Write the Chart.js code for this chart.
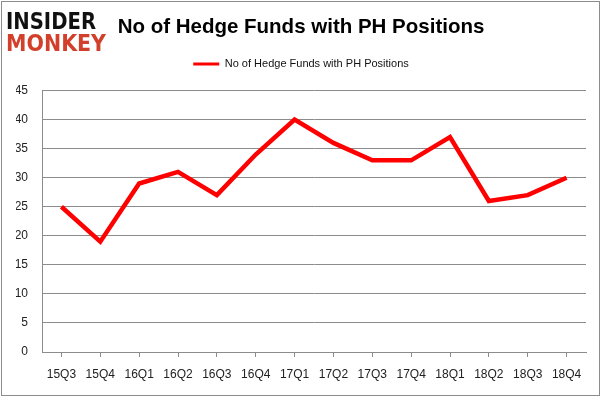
<!DOCTYPE html>
<html>
<head>
<meta charset="utf-8">
<script src="https://cdn.jsdelivr.net/npm/chart.js@4"></script>
<style>
  body { margin: 0; background: #fff; }
  #wrap { width: 602px; height: 398px; }
</style>
</head>
<body>
<div id="wrap"><canvas id="chart" width="602" height="398"></canvas></div>
<script>
var quarters = ["15Q3", "15Q4", "16Q1", "16Q2", "16Q3", "16Q4", "17Q1", "17Q2", "17Q3", "17Q4", "18Q1", "18Q2", "18Q3", "18Q4"];
var hedgeFunds = [25, 19, 29, 31, 27, 34, 40, 36, 33, 33, 37, 26, 27, 30];
var seriesName = "No of Hedge Funds with PH Positions";
var chartTitle = "No of Hedge Funds with PH Positions";

// frame and logo drawn around the chart
var decor = {
    id: "decor",
    beforeInit: function(chart) {
        // leave a gap under the legend, like the original
        var fit = chart.legend.fit;
        chart.legend.fit = function() {
            fit.call(this);
            this.height += 11;
        };
    },
    beforeDraw: function(chart) {
        var ctx = chart.ctx;
        ctx.save();
        ctx.fillStyle = "#fff";
        ctx.fillRect(0, 0, chart.width, chart.height);
        ctx.strokeStyle = "#8c8c8c";
        ctx.lineWidth = 1;
        ctx.strokeRect(1.5, 1.5, 598, 394);
        ctx.textBaseline = "alphabetic";
        ctx.fillStyle = "#111";
        ctx.font = "bold 23px 'DejaVu Sans'";
        ctx.fillText("INSIDER", 6, 29, 90);
        ctx.fillStyle = "#d2402c";
        ctx.fillText("MONKEY", 6, 51, 100);
        ctx.restore();
    }
};

var ctx = document.getElementById("chart").getContext("2d");
var chart = new Chart(ctx, {
    type: "line",
    data: {
        labels: quarters,
        datasets: [{
            label: seriesName,
            data: hedgeFunds,
            borderColor: "#ff0000",
            backgroundColor: "#ff0000",
            borderWidth: 4.5,
            pointRadius: 0,
            tension: 0,
            fill: false
        }]
    },
    options: {
        responsive: false,
        animation: false,
        layout: { padding: { left: 16, right: 16, top: 0, bottom: 0 } },
        plugins: {
            title: {
                display: true,
                text: chartTitle,
                color: "#000",
                font: { family: "'Liberation Sans'", size: 20.5, weight: "bold" },
                padding: { top: 15, bottom: 11 }
            },
            legend: {
                display: true,
                labels: {
                    color: "#111",
                    font: { family: "'Liberation Sans'", size: 11 },
                    usePointStyle: true,
                    pointStyle: "line",
                    pointStyleWidth: 26,
                    boxHeight: 11,
                    padding: 8,
                    generateLabels: function(c) {
                        var items = Chart.defaults.plugins.legend.labels.generateLabels(c);
                        items.forEach(function(it) { it.lineWidth = 3; });
                        return items;
                    }
                }
            },
            tooltip: { enabled: false }
        },
        scales: {
            x: {
                offset: true,
                grid: { drawOnChartArea: false, drawTicks: true, tickLength: 5, color: "#8c8c8c" },
                border: { display: true, color: "#8c8c8c" },
                ticks: { color: "#222", font: { family: "'Liberation Sans'", size: 12 }, padding: 10, maxRotation: 0 },
                afterFit: function(s) { s.height = 46; }
            },
            y: {
                min: 0,
                max: 45,
                ticks: { stepSize: 5, color: "#222", font: { family: "'Liberation Sans'", size: 12 }, padding: 14 },
                grid: { color: "#8c8c8c", drawTicks: false },
                border: { display: true, color: "#8c8c8c" },
                afterFit: function(s) { s.width = 26; }
            }
        }
    },
    plugins: [decor]
});
</script>
</body>
</html>
